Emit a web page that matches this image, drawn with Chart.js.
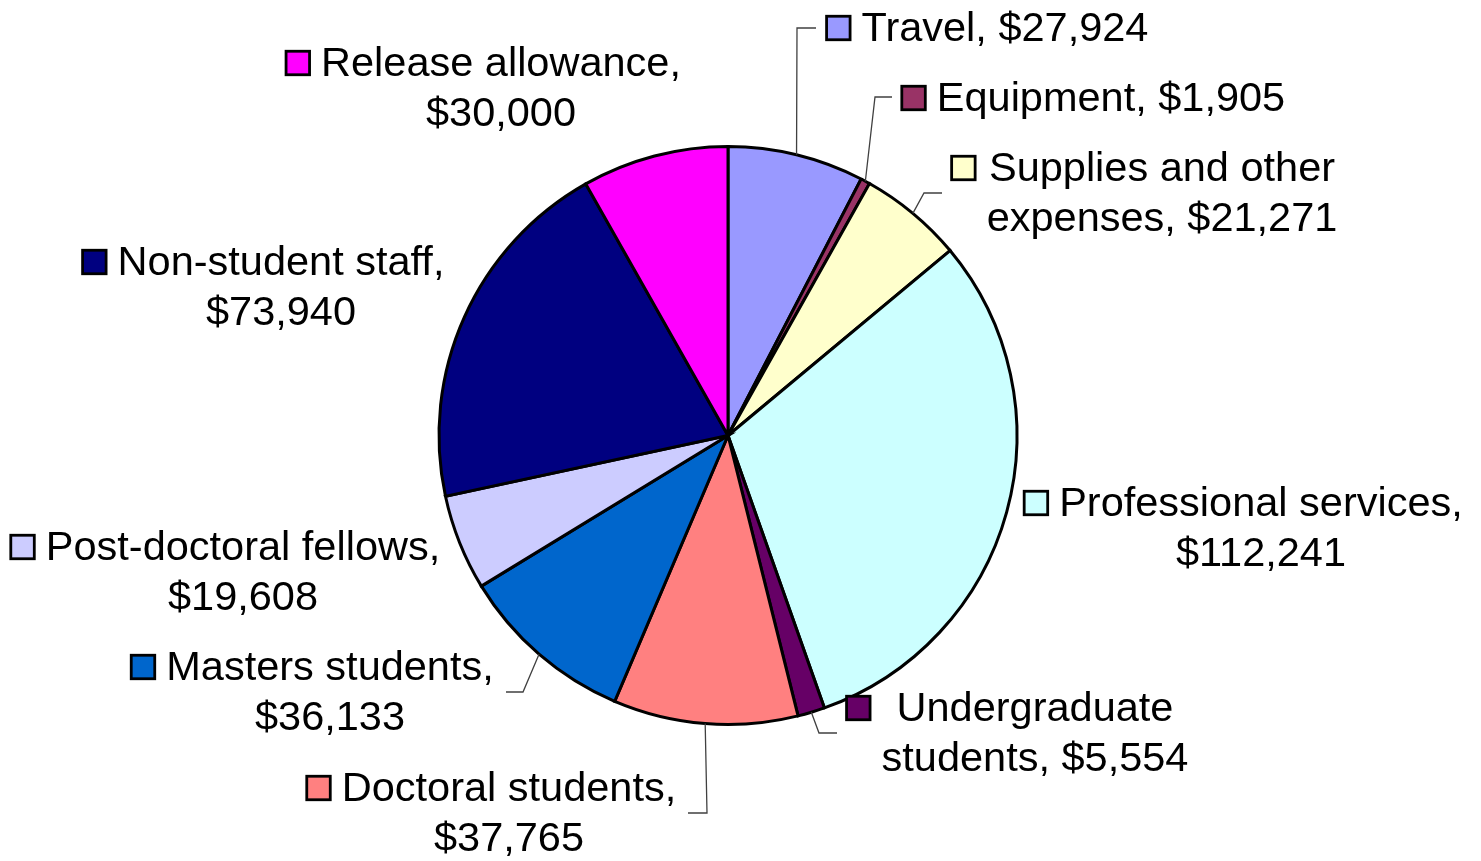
<!DOCTYPE html>
<html>
<head>
<meta charset="utf-8">
<script src="https://cdn.jsdelivr.net/npm/chart.js@4"></script>
<style>
  html, body { margin: 0; padding: 0; background: #ffffff; }
  #wrap { width: 1481px; height: 861px; position: relative; }
</style>
</head>
<body>
<div id="wrap"><canvas id="budgetChart" width="1481" height="861"></canvas></div>
<script>
// budget categories, clockwise from 12 o'clock
const categories = [
  'Travel', 'Equipment', 'Supplies and other expenses', 'Professional services',
  'Undergraduate students', 'Doctoral students', 'Masters students',
  'Post-doctoral fellows', 'Non-student staff', 'Release allowance'
];
const amounts = [27924, 1905, 21271, 112241, 5554, 37765, 36133, 19608, 73940, 30000];
const sliceColors = [
  '#9999FF', '#993366', '#FFFFCC', '#CCFFFF', '#660066',
  '#FF8080', '#0066CC', '#CCCCFF', '#000080', '#FF00FF'
];
// label text as it is broken over lines
const labelLines = [
  ['Travel, $27,924'],
  ['Equipment, $1,905'],
  ['Supplies and other', 'expenses, $21,271'],
  ['Professional services,', '$112,241'],
  ['Undergraduate', 'students, $5,554'],
  ['Doctoral students,', '$37,765'],
  ['Masters students,', '$36,133'],
  ['Post-doctoral fellows,', '$19,608'],
  ['Non-student staff,', '$73,940'],
  ['Release allowance,', '$30,000']
];

// where each label block sits (centre x of text, centre y of first line)
// and the leader line elbow / end, if there is one
const labelPlace = [
  { cx: 1005, cy: 28, leader: [[797, 28], [816, 28]] },
  { cx: 1111, cy: 98, leader: [[875, 97], [892, 97]] },
  { cx: 1162, cy: 168, leader: [[924, 193], [942, 193]] },
  { cx: 1261, cy: 503 },
  { cx: 1035, cy: 708, leader: [[819, 733], [837, 733]] },
  { cx: 509, cy: 788, leader: [[707, 813], [688, 813]] },
  { cx: 330, cy: 667, leader: [[523, 692], [506, 692]] },
  { cx: 243, cy: 547 },
  { cx: 281, cy: 262 },
  { cx: 501, cy: 63 }
];

const FONT = '41.5px "Liberation Sans", Arial, sans-serif';
const LINE_H = 50;

const calloutPlugin = {
  id: 'callouts',
  afterDraw(chart) {
    const ctx = chart.ctx;
    const arcs = chart.getDatasetMeta(0).data;
    ctx.save();
    ctx.font = FONT;
    ctx.textBaseline = 'middle';
    ctx.textAlign = 'center';
    labelPlace.forEach((p, i) => {
      const arc = arcs[i];
      // leader line from the slice rim
      if (p.leader) {
        const mid = (arc.startAngle + arc.endAngle) / 2;
        const sx = arc.x + Math.cos(mid) * arc.outerRadius;
        const sy = arc.y + Math.sin(mid) * arc.outerRadius;
        ctx.beginPath();
        ctx.moveTo(sx, sy);
        p.leader.forEach(pt => ctx.lineTo(pt[0], pt[1]));
        ctx.strokeStyle = '#404040';
        ctx.lineWidth = 1.3;
        ctx.stroke();
      }
      // text lines
      const lines = labelLines[i];
      let blockLeft = Infinity;
      lines.forEach((t, k) => {
        const w = ctx.measureText(t).width;
        blockLeft = Math.min(blockLeft, p.cx - w / 2);
        ctx.fillStyle = '#000000';
        ctx.fillText(t, p.cx, p.cy + k * LINE_H + 2);
      });
      // legend key square
      const sz = 23.5;
      const kx = blockLeft - 11.5 - sz;
      const ky = p.cy - sz / 2;
      ctx.fillStyle = sliceColors[i];
      ctx.fillRect(kx, ky, sz, sz);
      ctx.strokeStyle = '#000000';
      ctx.lineWidth = 2.8;
      ctx.strokeRect(kx, ky, sz, sz);
    });
    ctx.restore();
  }
};

const ctx = document.getElementById('budgetChart').getContext('2d');
new Chart(ctx, {
  type: 'pie',
  data: {
    labels: categories,
    datasets: [{
      data: amounts,
      backgroundColor: sliceColors,
      borderColor: '#000000',
      borderWidth: 3,
      borderJoinStyle: 'miter'
    }]
  },
  options: {
    responsive: false,
    animation: false,
    layout: {
      padding: { top: 145, bottom: 135, left: 300, right: 325 }
    },
    plugins: {
      legend: { display: false },
      tooltip: { enabled: false }
    }
  },
  plugins: [calloutPlugin]
});
</script>
</body>
</html>
